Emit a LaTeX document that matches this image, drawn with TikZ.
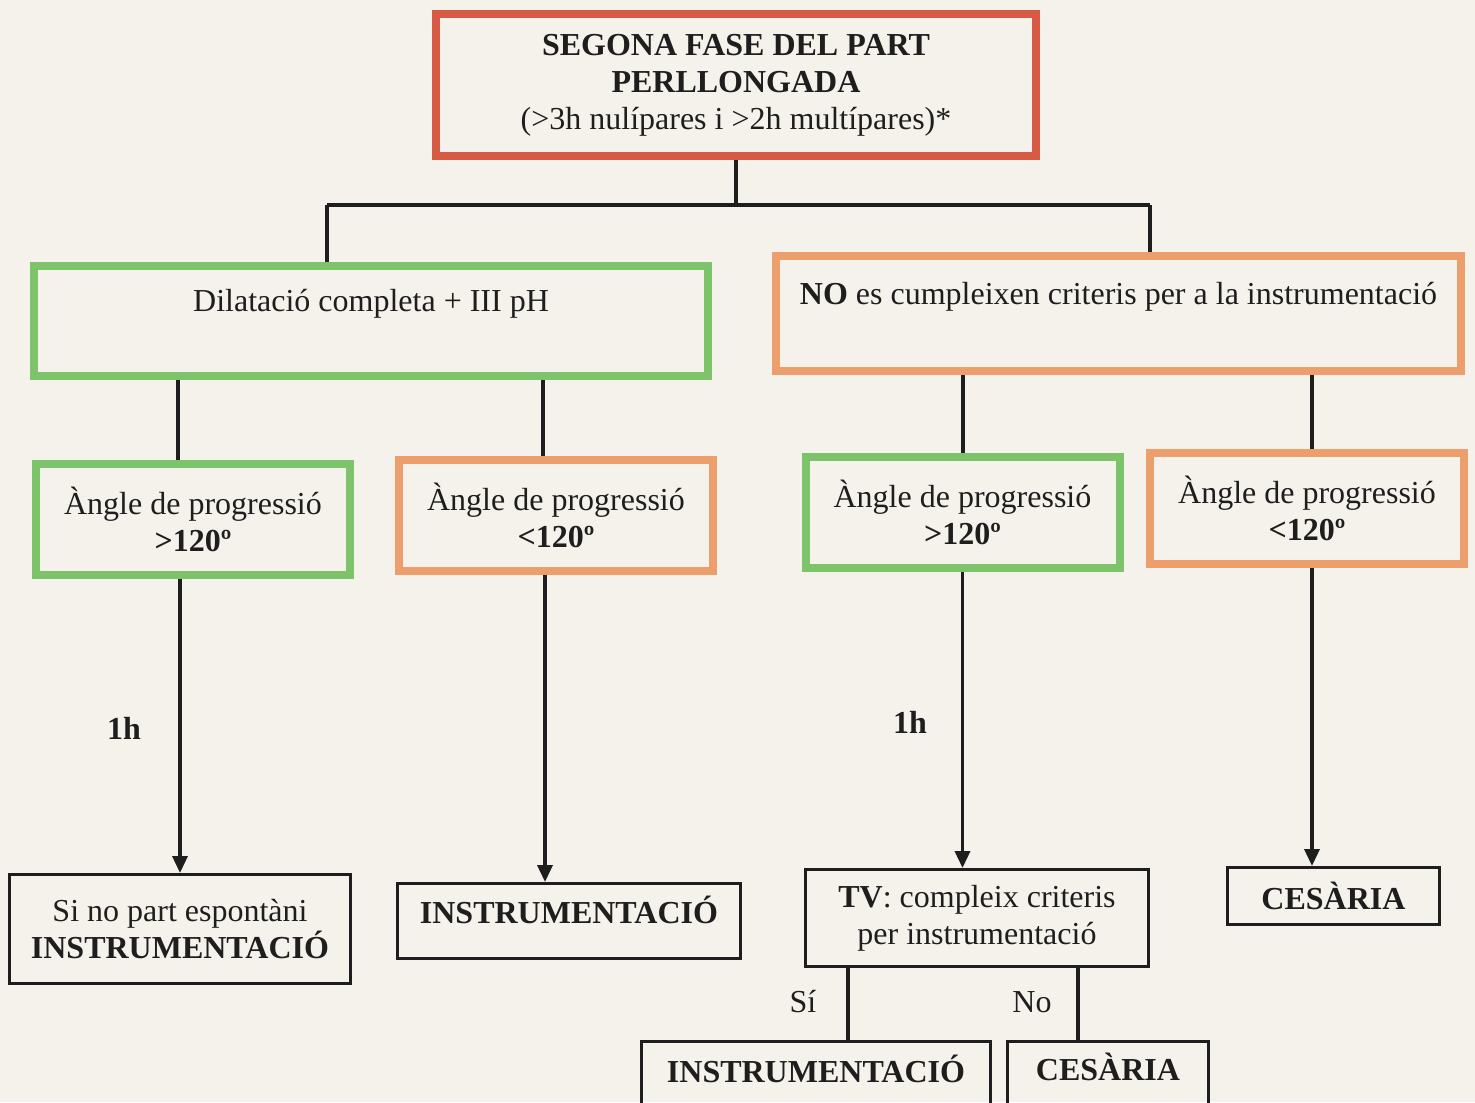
\documentclass[tikz,border=0pt]{standalone}
\usepackage{fontspec}
\setmainfont{Liberation Serif}
\usetikzlibrary{arrows.meta, positioning}
\definecolor{pgPaper}{HTML}{F4F2EA}
\definecolor{pgRed}{HTML}{D75A44}
\definecolor{pgGreen}{HTML}{7CC36A}
\definecolor{pgOrange}{HTML}{EC9E6C}
\definecolor{pgInk}{HTML}{1E1E1E}

\begin{document}
\begin{tikzpicture}[
    x=0.4pt, y=-0.4pt,
    >={Triangle[width=6pt, length=6.8pt]},
    txt/.style={font=\fontsize{12.8}{14.8}\selectfont, text=pgInk, align=center},
    phase/.style={txt, draw=pgRed, line width=3.2pt, inner sep=0pt},
    okbox/.style={txt, draw=pgGreen, line width=3.2pt, inner sep=0pt},
    warnbox/.style={txt, draw=pgOrange, line width=3.2pt, inner sep=0pt},
    anglebox/.style={minimum width=125.6pt, minimum height=44.4pt},
    result/.style={txt, draw=pgInk, line width=1.2pt, inner sep=0pt},
    conn/.style={draw=pgInk, line width=1.6pt},
    flow/.style={->, draw=pgInk, line width=1.4pt},
    lbl/.style={txt},
]

% ---- Paper ----
\fill[pgPaper] (0,0) rectangle (1475,1102);
\useasboundingbox (0,0) rectangle (1475,1102);

% ---- Top: prolonged second stage ----
\node[phase, minimum width=240pt, minimum height=56.8pt] (fase) at (736, 85)
  {\textbf{SEGONA FASE DEL PART}\\\textbf{PERLLONGADA}\\(>3h nulípares i >2h multípares)*};

% ---- Branches (text sits high in the box) ----
\node[okbox, minimum width=269.6pt, text height=18pt, text depth=26pt, anchor=north]
  (dil) at (371, 262) {Dilatació completa + III pH};
\node[warnbox, minimum width=274pt, text height=19.2pt, text depth=26.8pt, anchor=north]
  (nocrit) at (1118.5, 252) {\textbf{NO} es cumpleixen criteris per a la instrumentació};

\coordinate (jl) at (327, 205);
\coordinate (jr) at (1150, 205);
\draw[conn] (fase.south) -- (fase.south |- jl);
\draw[conn] (jl) -- (jr);
\draw[conn] (jl) -- (jl |- dil.north);
\draw[conn] (jr) -- (jr |- nocrit.north);

% ---- Angle of progression ----
\node[okbox, anglebox]   (a1) at (193, 519)    {Àngle de progressió\\\textbf{>120º}};
\node[warnbox, anglebox] (a2) at (556, 515)    {Àngle de progressió\\\textbf{<120º}};
\node[okbox, anglebox]   (a3) at (962.5, 512.5) {Àngle de progressió\\\textbf{>120º}};
\node[warnbox, anglebox] (a4) at (1307, 508)   {Àngle de progressió\\\textbf{<120º}};

\draw[conn] ([xshift=-6pt]a1.north) -- ([xshift=-6pt]a1.north |- dil.south);
\draw[conn] ([xshift=-5.2pt]a2.north) -- ([xshift=-5.2pt]a2.north |- dil.south);
\draw[conn] (a3.north) -- (a3.north |- nocrit.south);
\draw[conn] ([xshift=2pt]a4.north) -- ([xshift=2pt]a4.north |- nocrit.south);

% ---- Outcomes ----
\node[result, minimum width=136.4pt, minimum height=43.6pt] (r1) at (180, 929)
  {Si no part espontàni\\\textbf{INSTRUMENTACIÓ}};
\node[result, minimum width=137.2pt, text height=16pt, text depth=14pt, anchor=north]
  (r2) at (569, 882) {\textbf{INSTRUMENTACIÓ}};
\node[result, minimum width=137.2pt, minimum height=38.8pt] (tv) at (977, 918)
  {\textbf{TV}: compleix criteris\\per instrumentació};
\node[result, minimum width=84.8pt, minimum height=22.8pt] (ces1) at (1333.5, 896)
  {\textbf{CESÀRIA}};
\node[result, minimum width=139.6pt, text height=16.4pt, text depth=20pt, anchor=north]
  (ins2) at (816, 1040) {\textbf{INSTRUMENTACIÓ}};
\node[result, minimum width=80.4pt, text height=15.6pt, text depth=20pt, anchor=north]
  (ces2) at (1108, 1040) {\textbf{CESÀRIA}};

% Arrows down
\draw[flow] (a1.south -| r1.north) -- (r1.north);
\draw[flow] ([xshift=-4.4pt]a2.south) -- ([xshift=-4.4pt]a2.south |- r2.north);
\draw[flow] (a3.south) -- (a3.south |- tv.north);
\draw[flow] ([xshift=2pt]a4.south) -- ([xshift=2pt]a4.south |- ces1.north);

\node[lbl] (h1) at (124, 728) {\textbf{1h}};
\node[lbl] (h2) at (910, 722) {\textbf{1h}};

% TV decision
\draw[conn] ([xshift=-51.6pt]tv.south) -- ([xshift=-51.6pt]tv.south |- ins2.north);
\draw[conn] ([xshift=40.4pt]tv.south) -- ([xshift=40.4pt]tv.south |- ces2.north);
\node[lbl] (si) at (803, 1002) {Sí};
\node[lbl] (no) at (1032, 1002) {No};

\end{tikzpicture}
\end{document}
